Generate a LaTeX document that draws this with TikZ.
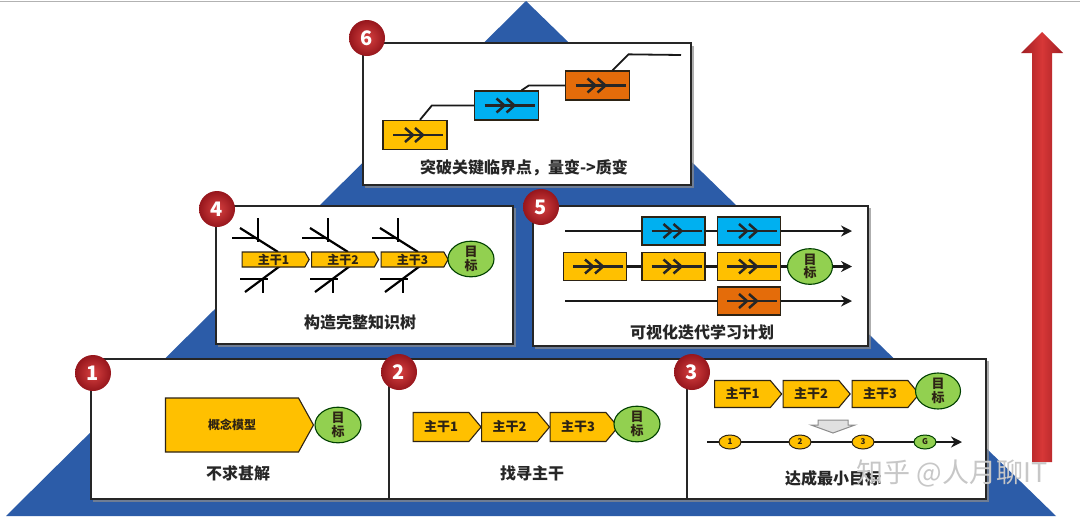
\documentclass[tikz,border=0pt]{standalone}
\usepackage{fontspec}
\setmainfont{Noto Sans CJK SC}
\usetikzlibrary{shapes.symbols,shapes.geometric,arrows.meta,calc}
\pgfdeclarelayer{bg}\pgfdeclarelayer{mid}\pgfsetlayers{bg,mid,main}
\definecolor{pyr}{RGB}{44,92,168}
\definecolor{gold}{RGB}{255,192,0}
\definecolor{sky}{RGB}{0,176,240}
\definecolor{org}{RGB}{228,108,10}
\definecolor{grn}{RGB}{146,208,80}
\definecolor{badgein}{RGB}{215,65,65}
\definecolor{badgeout}{RGB}{150,22,28}
\definecolor{arrowedge}{RGB}{160,30,35}
\definecolor{arrowmid}{RGB}{215,55,55}
\definecolor{edge}{RGB}{45,35,20}
\tikzset{
  panel/.style={draw=black!85, line width=1.5pt, fill=white, inner sep=0, anchor=north west},
  shadowbox/.style={fill=black!45, opacity=0.7},
  badgenode/.style={circle, minimum size=36, inner sep=0, inner color=badgein, outer color=badgeout, text=white, font=\bfseries\fontsize{20}{20}\selectfont},
  cbox/.style={draw=edge, line width=1.3pt, minimum width=64, minimum height=29, inner sep=0},
  pent/.style={shape=signal, signal to=east, signal pointer angle=100, draw=edge, line width=1.1pt, fill=gold, inner sep=0, text=edge, font=\bfseries\fontsize{13}{13}\selectfont},
  goal/.style={ellipse, draw=black!75!green, line width=1.1pt, fill=grn, inner sep=0, minimum width=46, minimum height=33, align=center, text=edge, font=\bfseries\fontsize{13}{13.5}\selectfont},
  dot/.style={ellipse, draw=edge, line width=1pt, fill=gold, inner sep=0, minimum width=22, minimum height=14, text=edge, font=\bfseries\fontsize{8}{8}\selectfont},
  title/.style={text=black!85, font=\bfseries\fontsize{16}{16}\selectfont},
  link/.style={draw=black!90, line width=1.8pt},
  flow/.style={draw=black!90, line width=2.2pt, -{Stealth[length=11pt,width=11pt]}},
  bone/.style={draw=black, line width=2.2pt},
  pics/chev/.style={code={
    \draw[line width=2.5pt, black!85] (-22,0) -- (28,0);
    \draw[line width=2.5pt, black!85, line join=miter] (-10,-7) -- (-2,0) -- (-10,7);
    \draw[line width=2.5pt, black!85, line join=miter] (0,-7) -- (8,0) -- (0,7);
  }}
}
\begin{document}
\begin{tikzpicture}[x=1pt,y=-1pt]
\useasboundingbox (0,0) rectangle (1080,520);

\begin{pgfonlayer}{bg}
\fill[white] (0,0) rectangle (1080,520);
\draw[black!30, line width=0.8pt] (0,1) -- (1080,1);
% pyramid
\fill[pyr] (526,1) -- (1056,516) -- (6,516) -- cycle;
% shadows
\fill[shadowbox] (365,46) rectangle (694,188);
\fill[shadowbox] (218,208) rectangle (516,347);
\fill[shadowbox] (535,208) rectangle (871,349);
\fill[shadowbox] (93,361) rectangle (989,502);
% panels
\node[panel, minimum width=328, minimum height=142] (p6) at (362,42) {};
\node[panel, minimum width=297, minimum height=138] (p4) at (215,205) {};
\node[panel, minimum width=335, minimum height=140] (p5) at (532,205) {};
\node[panel, minimum width=298, minimum height=140] (p1) at (90,358) {};
\node[panel, minimum width=298, minimum height=140] (p2) at (388,358) {};
\node[panel, minimum width=299, minimum height=140] (p3) at (686,358) {};
\end{pgfonlayer}

% ---------- box 6 ----------
\node[cbox, fill=gold] (y6) at (415,135) {};
\node[cbox, fill=sky] (b6) at (506.5,105.5) {};
\node[cbox, fill=org] (o6) at (597.5,85.5) {};
\pic at (y6) {chev};
\pic at (b6) {chev};
\pic at (o6) {chev};
\coordinate (e6) at (681,55);
\draw[link] ([xshift=5]y6.north) -- ([xshift=-42]b6.west) -- (b6.west);
\draw[link] ([xshift=15]b6.north) -- ([xshift=-36]o6.west) -- (o6.west);
\draw[link] ([xshift=15]o6.north) -- ++(16,-16) -- (e6);
\node[title] (t6) at (524,168) {突破关键临界点，量变->质变};

% ---------- box 4 ----------
\foreach \i in {0,1,2}{
  \pgfmathsetmacro{\xo}{70*\i}
  \begin{scope}[xshift=\xo]
    \draw[bone] (258,218) -- (258,242);
    \draw[bone] (232,238) -- (258,238);
    \draw[bone] (240,228) -- (278,252);
    \draw[bone] (240,279) -- (268,279);
    \draw[bone] (263,279) -- (263,293);
    \draw[bone] (280,266) -- (245,292);
  \end{scope}
}
\node[pent, minimum width=67, minimum height=15, signal pointer angle=120, font=\bfseries\fontsize{12}{12}\selectfont] (a41) at (273.5,259.5) {主干1};
\node[pent, minimum width=67, minimum height=15, signal pointer angle=120, font=\bfseries\fontsize{12}{12}\selectfont] (a42) at (343,259.5) {主干2};
\node[pent, minimum width=67, minimum height=15, signal pointer angle=120, font=\bfseries\fontsize{12}{12}\selectfont] (a43) at (412.5,259.5) {主干3};
\node[goal] (g4) at (471,259) {目\\标};
\node[title] (t4) at (360,322) {构造完整知识树};

% ---------- box 5 ----------
\node[cbox, fill=sky, minimum width=63, minimum height=28] (b51) at (673.5,231) {};
\node[cbox, fill=sky, minimum width=63, minimum height=28] (b52) at (749,231) {};
\node[cbox, fill=gold, minimum width=63, minimum height=28] (y51) at (595,266.5) {};
\node[cbox, fill=gold, minimum width=63, minimum height=28] (y52) at (673.5,266.5) {};
\node[cbox, fill=gold, minimum width=63, minimum height=28] (y53) at (749,266.5) {};
\node[cbox, fill=org, minimum width=63, minimum height=28] (o51) at (749,301) {};
\node[goal, minimum width=45] (g5) at (810,266.5) {目\\标};
\foreach \n in {b51,b52,y51,y52,y53,o51}{\pic at (\n) {chev};}
\coordinate (r1s) at (565,231);
\coordinate (r1e) at (852,231);
\coordinate (r2e) at (852,266.5);
\coordinate (r3s) at (565,301);
\coordinate (r3e) at (852,301);
\begin{pgfonlayer}{mid}
\draw[flow] (r1s) -- (r1e);
\draw[flow] (y51.west) -- (r2e);
\draw[flow] (r3s) -- (r3e);
\end{pgfonlayer}
\node[title] (t5) at (702,332) {可视化迭代学习计划};

% ---------- box 1 ----------
\node[pent, minimum width=148, minimum height=54, signal pointer angle=122, font=\bfseries\fontsize{12}{12}\selectfont] (a11) at (232,425) {概念模型};
\node[goal] (g1) at (338,425) {目\\标};
\node[title] (t1) at (238,473) {不求甚解};

% ---------- box 2 ----------
\node[pent, minimum width=68, minimum height=29] (a21) at (441,427) {主干1};
\node[pent, minimum width=68, minimum height=29] (a22) at (509.5,427) {主干2};
\node[pent, minimum width=68, minimum height=29] (a23) at (578,427) {主干3};
\node[goal, minimum height=35] (g2) at (637,424) {目\\标};
\node[title] (t2) at (532,473) {找寻主干};

% ---------- box 3 ----------
\node[pent, minimum width=67, minimum height=27] (a31) at (742.5,394) {主干1};
\node[pent, minimum width=67, minimum height=27] (a32) at (811,394) {主干2};
\node[pent, minimum width=67, minimum height=27] (a33) at (880,394) {主干3};
\node[goal, minimum width=45, minimum height=36] (g3) at (938,391) {目\\标};
\draw[draw=black!45, fill=black!12, line width=1pt] (818,420) -- (848,420) -- (848,425) -- (855,425) -- (833,433) -- (811,425) -- (818,425) -- cycle;
\node[dot] (d1) at (730,442) {1};
\node[dot] (d2) at (800,442) {2};
\node[dot] (d3) at (863,442) {3};
\node[dot, fill=grn, draw=black!75!green] (dg) at (925,442) {G};
\coordinate (ts) at (707,442);
\coordinate (te) at (962,442);
\begin{pgfonlayer}{mid}
\draw[flow, line width=1.8pt] (ts) -- (te);
\end{pgfonlayer}
\node[title] (t3) at (833,478) {达成最小目标};

% ---------- badges ----------
\node[badgenode] (n6) at (367,38) {6};
\node[badgenode] (n4) at (217,209) {4};
\node[badgenode] (n5) at (541,207) {5};
\node[badgenode] (n1) at (93,373) {1};
\node[badgenode] (n2) at (399,372) {2};
\node[badgenode] (n3) at (692,372) {3};

% ---------- red arrow ----------
\shade[left color=arrowedge, right color=arrowedge, middle color=arrowmid]
  (1032,462) -- (1032,53) -- (1021,53) -- (1042,32) -- (1063,53) -- (1052,53) -- (1052,462) -- cycle;

% watermark
\node[text=black!22, font=\fontsize{27}{27}\selectfont, anchor=west] (wm) at (853,473) {知乎 @人月聊IT};
\end{tikzpicture}
\end{document}
